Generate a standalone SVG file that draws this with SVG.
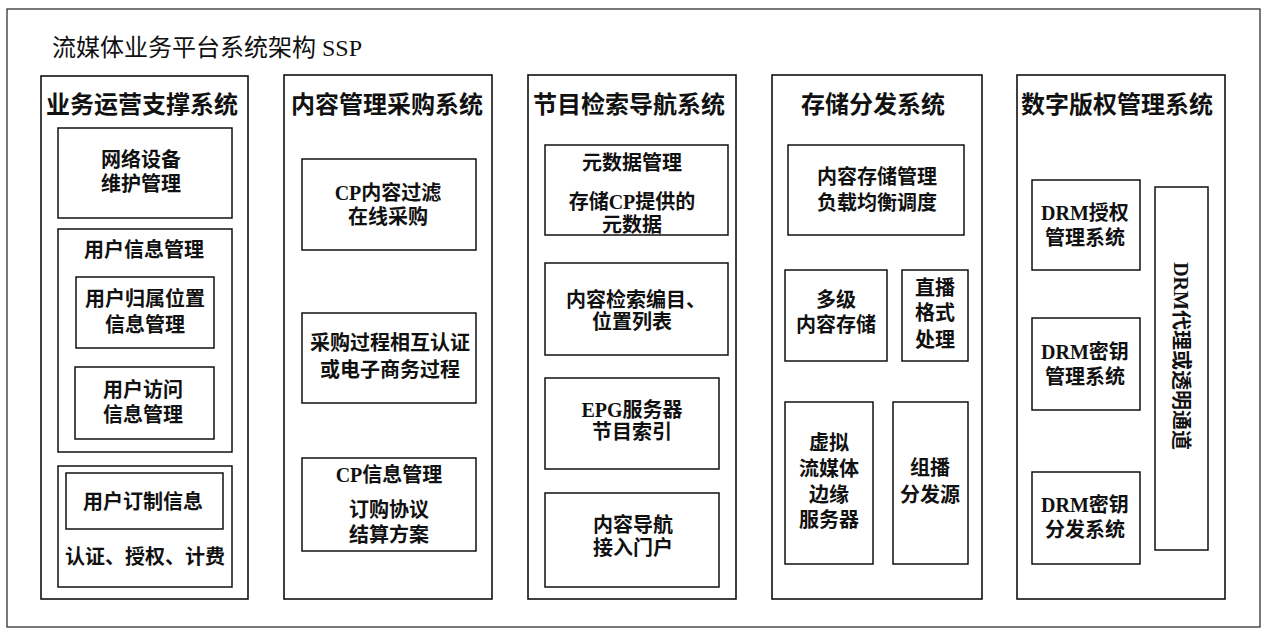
<svg xmlns="http://www.w3.org/2000/svg" width="1265" height="637" viewBox="0 0 1265 637">
<style>
.frame{fill:#fff;stroke:#222;stroke-width:1.2}
.col{fill:#fff;stroke:#111;stroke-width:1.6}
.box{fill:#fff;stroke:#111;stroke-width:1.5}
.t{font-family:"Liberation Serif","Noto Sans CJK SC",serif;font-weight:bold;font-size:20px;text-anchor:middle;dominant-baseline:central;fill:#111}
.h{font-size:24px}
.title{font-family:"Liberation Serif","Noto Sans CJK SC",serif;font-size:24px;fill:#111;dominant-baseline:central}
</style>
<rect width="1265" height="637" fill="#fff"/>
<g id="frame">
<rect class="frame" x="7" y="9" width="1253" height="618"/>
<text class="title" x="52" y="48">流媒体业务平台系统架构 SSP</text>
</g>
<g id="connectors"></g>

<g id="col-oss">
<rect class="col" x="41" y="76" width="207" height="523"/>
<text class="t h" x="142" y="105">业务运营支撑系统</text>
</g>
<g id="net-maint">
<rect class="box" x="58" y="128" width="174" height="90"/>
<text class="t" x="141" y="160">网络设备</text>
<text class="t" x="141" y="184">维护管理</text>
</g>
<g id="user-info">
<rect class="box" x="58" y="229" width="174" height="223"/>
<text class="t" x="144" y="250">用户信息管理</text>
</g>
<g id="user-location">
<rect class="box" x="76" y="277" width="138" height="71"/>
<text class="t" x="145" y="299">用户归属位置</text>
<text class="t" x="145" y="325">信息管理</text>
</g>
<g id="user-access">
<rect class="box" x="75" y="367" width="139" height="72"/>
<text class="t" x="143" y="390">用户访问</text>
<text class="t" x="143" y="415">信息管理</text>
</g>
<g id="billing">
<rect class="box" x="58" y="466" width="174" height="121"/>
<text class="t" x="145" y="557">认证、授权、计费</text>
</g>
<g id="user-sub">
<rect class="box" x="66" y="473" width="157" height="56"/>
<text class="t" x="143" y="502">用户订制信息</text>
</g>

<g id="col-cms">
<rect class="col" x="284" y="75" width="208" height="524"/>
<text class="t h" x="387" y="105">内容管理采购系统</text>
</g>
<g id="cp-filter">
<rect class="box" x="302" y="159" width="174" height="91"/>
<text class="t" x="388" y="193">CP内容过滤</text>
<text class="t" x="388" y="217">在线采购</text>
</g>
<g id="purchase-auth">
<rect class="box" x="302" y="313" width="174" height="90"/>
<text class="t" x="390" y="343">采购过程相互认证</text>
<text class="t" x="390" y="370">或电子商务过程</text>
</g>
<g id="cp-info">
<rect class="box" x="302" y="458" width="174" height="93"/>
<text class="t" x="389" y="475">CP信息管理</text>
<text class="t" x="389" y="510">订购协议</text>
<text class="t" x="389" y="535">结算方案</text>
</g>

<g id="col-nav">
<rect class="col" x="528" y="75" width="208" height="524"/>
<text class="t h" x="629" y="105">节目检索导航系统</text>
</g>
<g id="metadata">
<rect class="box" x="545" y="145" width="183" height="90"/>
<text class="t" x="632" y="163">元数据管理</text>
<text class="t" x="632" y="202">存储CP提供的</text>
<text class="t" x="632" y="225">元数据</text>
</g>
<g id="catalog">
<rect class="box" x="545" y="263" width="183" height="92"/>
<text class="t" x="636" y="300">内容检索编目、</text>
<text class="t" x="632" y="322">位置列表</text>
</g>
<g id="epg">
<rect class="box" x="545" y="378" width="174" height="91"/>
<text class="t" x="632" y="410">EPG服务器</text>
<text class="t" x="632" y="432">节目索引</text>
</g>
<g id="portal">
<rect class="box" x="545" y="493" width="174" height="94"/>
<text class="t" x="633" y="525">内容导航</text>
<text class="t" x="633" y="548">接入门户</text>
</g>

<g id="col-storage">
<rect class="col" x="772" y="75" width="210" height="524"/>
<text class="t h" x="873" y="105">存储分发系统</text>
</g>
<g id="storage-mgmt">
<rect class="box" x="788" y="145" width="176" height="90"/>
<text class="t" x="877" y="177">内容存储管理</text>
<text class="t" x="877" y="203">负载均衡调度</text>
</g>
<g id="multi-storage">
<rect class="box" x="785" y="270" width="102" height="91"/>
<text class="t" x="836" y="300">多级</text>
<text class="t" x="836" y="325">内容存储</text>
</g>
<g id="live-format">
<rect class="box" x="902" y="270" width="66" height="91"/>
<text class="t" x="935" y="288">直播</text>
<text class="t" x="935" y="313">格式</text>
<text class="t" x="935" y="340">处理</text>
</g>
<g id="edge-server">
<rect class="box" x="785" y="402" width="88" height="162"/>
<text class="t" x="829" y="443">虚拟</text>
<text class="t" x="829" y="469">流媒体</text>
<text class="t" x="829" y="495">边缘</text>
<text class="t" x="829" y="520">服务器</text>
</g>
<g id="multicast">
<rect class="box" x="893" y="402" width="75" height="162"/>
<text class="t" x="930" y="468">组播</text>
<text class="t" x="930" y="495">分发源</text>
</g>

<g id="col-drm">
<rect class="col" x="1017" y="75" width="208" height="524"/>
<text class="t h" x="1117" y="105">数字版权管理系统</text>
</g>
<g id="drm-auth">
<rect class="box" x="1032" y="180" width="108" height="90"/>
<text class="t" x="1085" y="213">DRM授权</text>
<text class="t" x="1085" y="238">管理系统</text>
</g>
<g id="drm-key-mgmt">
<rect class="box" x="1032" y="318" width="108" height="92"/>
<text class="t" x="1085" y="352">DRM密钥</text>
<text class="t" x="1085" y="377">管理系统</text>
</g>
<g id="drm-key-dist">
<rect class="box" x="1032" y="472" width="108" height="92"/>
<text class="t" x="1085" y="505">DRM密钥</text>
<text class="t" x="1085" y="530">分发系统</text>
</g>
<g id="drm-proxy">
<rect class="box" x="1155" y="187" width="53" height="363"/>
<text class="t" transform="translate(1181,356) rotate(90)">DRM代理或透明通道</text>
</g>
</svg>
